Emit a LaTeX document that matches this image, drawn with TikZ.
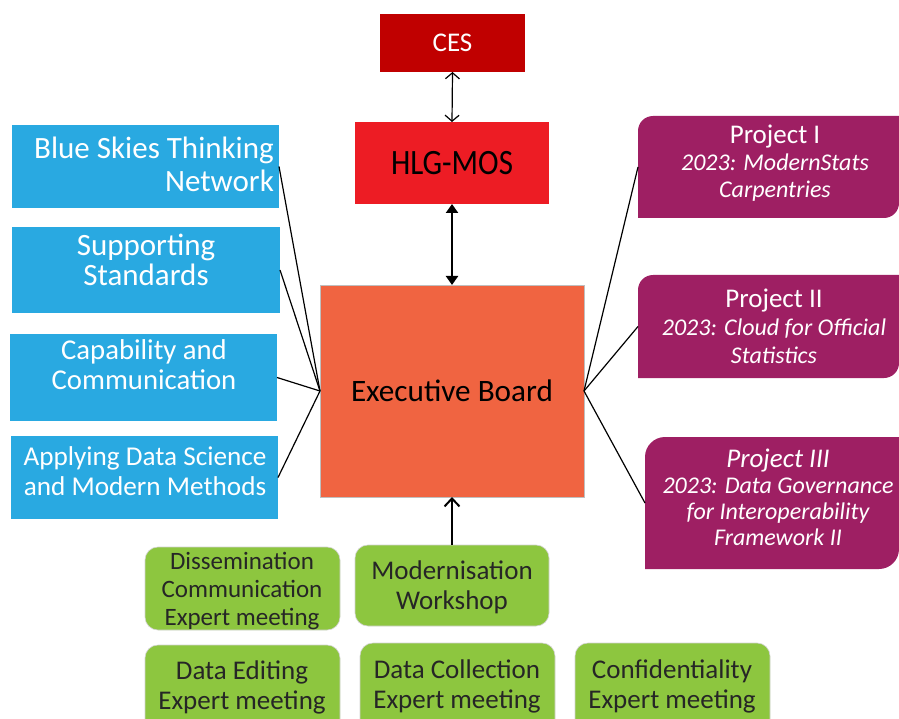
\documentclass[tikz,border=0pt]{standalone}
\usepackage{fontspec}
\setmainfont{Carlito}
\usetikzlibrary{arrows.meta,backgrounds}
\definecolor{cesred}{HTML}{C00000}
\definecolor{hlgred}{HTML}{ED1C24}
\definecolor{exorange}{HTML}{F06441}
\definecolor{skyblue}{HTML}{29A9E1}
\definecolor{plum}{HTML}{9E1F63}
\definecolor{leaf}{HTML}{8DC63F}
\definecolor{darktext}{HTML}{262626}
\tikzset{
  box/.style={rectangle, inner sep=0pt, outer sep=0pt},
  bluebox/.style={box, fill=skyblue},
  greenbox/.style={box, fill=leaf, rounded corners=13pt, draw=black!18, line width=0.6pt},
  plumbox/.style={box},
  txt/.style={inner sep=0pt, align=center},
  wtxt/.style={txt, text=white},
  gtxt/.style={txt, text=darktext},
  link/.style={line width=1.2pt, black},
}
\begin{document}
\begin{tikzpicture}[x=1pt,y=-1pt]
\useasboundingbox (0,0) rectangle (899,719);
% top boxes
\node[box, fill=cesred, minimum width=145pt, minimum height=58pt] (ces) at (452.5,43) {};
\node[wtxt, font=\fontsize{27}{30}\selectfont] (cest) at (452.5,43) {CES};
\node[box, fill=hlgred, minimum width=194pt, minimum height=82pt] (hlg) at (452,163) {};
\node[txt, font=\fontsize{31}{36}\selectfont] (hlgt) at (452,163) {\scalebox{1}[1.15]{HLG-MOS}};
\node[box, fill=exorange, draw=black!25, line width=0.6pt, minimum width=264pt, minimum height=212pt] (eb) at (452,391) {};
\node[txt, font=\fontsize{31.2}{36}\selectfont] (ebt) at (452,391) {Executive Board};
% blue boxes
\node[bluebox, minimum width=267pt, minimum height=83pt] (b1) at (145.5,166.5) {};
\node[wtxt, align=right, anchor=east, font=\fontsize{31}{33}\selectfont] (b1t) at (274,164) {Blue Skies Thinking\\Network};
\node[bluebox, minimum width=268pt, minimum height=86pt] (b2) at (146,270) {};
\node[wtxt, font=\fontsize{31}{30}\selectfont] (b2t) at (146,260) {Supporting\\Standards};
\node[bluebox, minimum width=267pt, minimum height=87pt] (b3) at (143.5,377.5) {};
\node[wtxt, font=\fontsize{28.7}{30}\selectfont] (b3t) at (144,365) {Capability and\\Communication};
\node[bluebox, minimum width=267pt, minimum height=83pt] (b4) at (144.5,477.5) {};
\node[wtxt, font=\fontsize{27.2}{30}\selectfont] (b4t) at (145,471.5) {Applying Data Science\\and Modern Methods};
% plum boxes (rounded top-left and bottom-right)
\node[plumbox, minimum width=261pt, minimum height=102pt] (p1) at (768.5,167) {};
\node[plumbox, minimum width=261pt, minimum height=103pt] (p2) at (768.5,326.5) {};
\node[plumbox, minimum width=254pt, minimum height=132pt] (p3) at (772,503) {};
\begin{scope}[on background layer]
\foreach \p/\r in {p1/15pt,p2/15pt,p3/20pt}{
  \fill[plum] (\p.south west) [rounded corners=\r] -- (\p.north west) [sharp corners] -- (\p.north east) [rounded corners=\r] -- (\p.south east) [sharp corners] -- cycle;
}
\end{scope}
\node[wtxt, font=\fontsize{27}{27}\selectfont] (p1t) at (775,163) {Project I\\\fontsize{24}{26}\selectfont\itshape 2023: ModernStats\\\fontsize{24}{26}\selectfont\itshape Carpentries};
\node[wtxt, font=\fontsize{27}{28}\selectfont] (p2t) at (774,326.5) {Project II\\\fontsize{24}{28}\selectfont\itshape 2023: Cloud for Official\\\fontsize{24}{28}\selectfont\itshape Statistics};
\node[wtxt, font=\fontsize{27}{26}\selectfont\itshape] (p3t) at (778,497.5) {Project III\\\fontsize{24}{26}\selectfont 2023: Data Governance\\\fontsize{24}{26}\selectfont for Interoperability\\\fontsize{24}{26}\selectfont Framework II};
% green boxes
\node[greenbox, minimum width=195pt, minimum height=83pt] (g1) at (242.5,588.5) {};
\node[gtxt, font=\fontsize{25}{28}\selectfont] (g1t) at (242,591) {Dissemination\\Communication\\Expert meeting};
\node[greenbox, minimum width=194pt, minimum height=81pt] (g2) at (452,585.5) {};
\node[gtxt, font=\fontsize{27}{30}\selectfont] (g2t) at (452,587) {Modernisation\\Workshop};
\node[greenbox, minimum width=195pt, minimum height=90pt] (g3) at (242.5,690) {};
\node[gtxt, font=\fontsize{27}{30}\selectfont] (g3t) at (242,687) {Data Editing\\Expert meeting};
\node[greenbox, minimum width=195pt, minimum height=92pt] (g4) at (457.5,689) {};
\node[gtxt, font=\fontsize{27}{30}\selectfont] (g4t) at (457,686) {Data Collection\\Expert meeting};
\node[greenbox, minimum width=195pt, minimum height=92pt] (g5) at (672.5,689) {};
\node[gtxt, font=\fontsize{27}{30}\selectfont] (g5t) at (672,686) {Confidentiality\\Expert meeting};
% connectors
\draw[line width=1.2pt, {Straight Barb[length=6pt,width=14pt]}-{Straight Barb[length=6pt,width=14pt]}] (ces.south) -- (hlg.north);
\draw[line width=2.2pt, {Triangle[length=9pt,width=12pt]}-{Triangle[length=9pt,width=12pt]}] (hlg.south) -- (eb.north);
\draw[line width=2pt, -{Straight Barb[length=8pt,width=15pt]}] (g2.north) -- (eb.south);
\foreach \b in {b1,b2,b3,b4} \draw[link] (eb.west) -- (\b.east);
\foreach \p in {p1,p2,p3} \draw[link] (eb.east) -- (\p.west);
\end{tikzpicture}
\end{document}
